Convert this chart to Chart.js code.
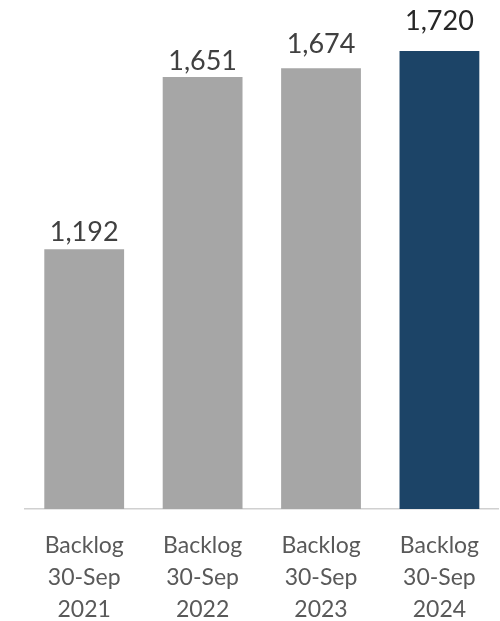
<!DOCTYPE html>
<html>
<head>
<meta charset="utf-8">
<script src="https://cdn.jsdelivr.net/npm/chart.js@4"></script>
<style>
  html, body { margin: 0; padding: 0; background: #ffffff; }
  #wrap { width: 500px; height: 621px; position: relative; }
</style>
</head>
<body>
<div id="wrap"><canvas id="c" width="500" height="621"></canvas></div>
<script>
const categories = [
  ["Backlog", "30-Sep", "2021"],
  ["Backlog", "30-Sep", "2022"],
  ["Backlog", "30-Sep", "2023"],
  ["Backlog", "30-Sep", "2024"]
];
const backlogValues = [1192, 1651, 1674, 1720];
const yMin = 500;
const yMax = 1856;

const barColors = ["#a6a6a6", "#a6a6a6", "#a6a6a6", "#1c4467"];
const labelColors = ["#404040", "#404040", "#404040", "#262626"];
const labelOffsets = [8, 7, 15, 21];

const valueLabels = {
  id: 'valueLabels',
  afterDatasetsDraw(chart) {
    const ctx = chart.ctx;
    const meta = chart.getDatasetMeta(0);
    ctx.save();
    ctx.textAlign = 'center';
    ctx.textBaseline = 'alphabetic';
    meta.data.forEach((bar, i) => {
      const v = chart.data.datasets[0].data[i];
      ctx.font = '400 27px Lato';
      ctx.fillStyle = labelColors[i];
      ctx.fillText(v.toLocaleString('en-US'), bar.x, bar.y - labelOffsets[i]);
    });
    ctx.restore();
  }
};

new Chart(document.getElementById('c'), {
  type: 'bar',
  data: {
    labels: categories,
    datasets: [{
      data: backlogValues,
      backgroundColor: barColors,
      borderWidth: 0,
      barPercentage: 0.674,
      categoryPercentage: 1.0
    }]
  },
  options: {
    responsive: false,
    animation: false,
    devicePixelRatio: 1,
    layout: { padding: { left: 25, right: 0, top: 0, bottom: 0 } },
    plugins: { legend: { display: false }, tooltip: { enabled: false } },
    scales: {
      y: { display: false, min: yMin, max: yMax },
      x: {
        grid: { display: false, drawTicks: false },
        border: { display: true, color: '#d0d0d0', width: 1.5 },
        afterFit(scale) { scale.height = 112; },
        ticks: {
          color: '#595959',
          font: { family: 'Lato', size: 23, lineHeight: 1.38 },
          padding: 21,
          maxRotation: 0,
          autoSkip: false
        }
      }
    }
  },
  plugins: [valueLabels]
});
</script>
</body>
</html>
